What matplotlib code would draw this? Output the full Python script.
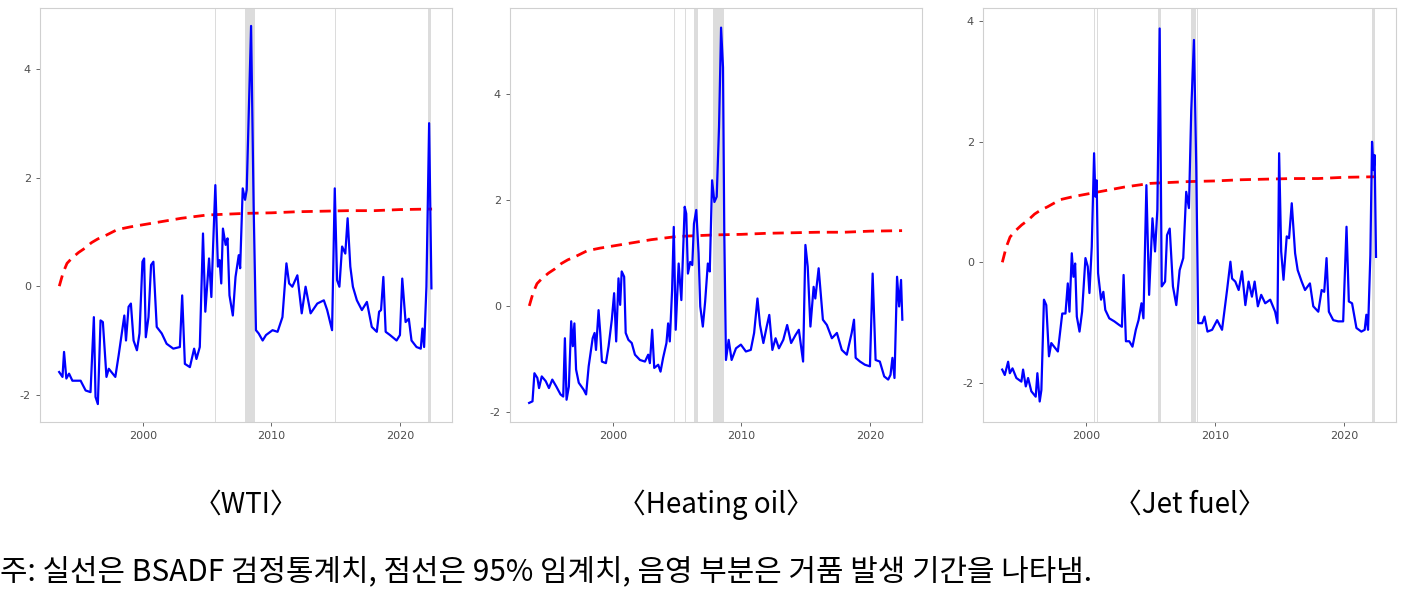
import numpy as np
import matplotlib.pyplot as plt

# ---- data ----
wti_t = [1993.49, 1993.75, 1993.87, 1994.05, 1994.26, 1994.52, 1995.16, 1995.55, 1995.93, 1996.19, 1996.32, 1996.50,
         1996.71, 1996.89, 1997.17, 1997.35, 1997.86, 1998.12, 1998.56, 1998.69, 1998.89, 1999.07, 1999.28, 1999.54,
         1999.74, 1999.97, 2000.10, 2000.23, 2000.44, 2000.64, 2000.82, 2001.08, 2001.47, 2001.85, 2002.37, 2002.88,
         2003.06, 2003.27, 2003.66, 2003.99, 2004.17, 2004.43, 2004.68, 2004.86, 2005.15, 2005.33, 2005.46, 2005.64,
         2005.84, 2005.97, 2006.10, 2006.23, 2006.44, 2006.59, 2006.74, 2007.00, 2007.21, 2007.46, 2007.57, 2007.77,
         2007.95, 2008.08, 2008.42, 2008.62, 2008.80, 2009.01, 2009.32, 2009.58, 2010.09, 2010.48, 2010.86, 2011.17,
         2011.38, 2011.63, 2012.02, 2012.36, 2012.66, 2013.05, 2013.57, 2014.08, 2014.34, 2014.72, 2014.93, 2015.11,
         2015.29, 2015.50, 2015.75, 2015.93, 2016.14, 2016.34, 2016.65, 2017.04, 2017.43, 2017.81, 2018.20, 2018.38,
         2018.53, 2018.71, 2018.89, 2019.23, 2019.74, 2020.00, 2020.18, 2020.44, 2020.69, 2020.90, 2021.29, 2021.62,
         2021.75, 2021.88, 2022.06, 2022.27, 2022.45]
wti_v = [-1.58, -1.67, -1.21, -1.70, -1.61, -1.74, -1.74, -1.92, -1.95, -0.57, -2.04, -2.17,
         -0.63, -0.66, -1.67, -1.52, -1.67, -1.27, -0.54, -1.00, -0.38, -0.32, -1.00, -1.18,
         -0.87, 0.45, 0.51, -0.94, -0.57, 0.39, 0.45, -0.75, -0.87, -1.06, -1.15, -1.12,
         -0.17, -1.43, -1.49, -1.15, -1.34, -1.12, 0.97, -0.47, 0.51, -0.20, 0.70, 1.86,
         0.36, 0.48, 0.05, 1.06, 0.76, 0.88, -0.17, -0.54, 0.17, 0.57, 0.33, 1.80,
         1.59, 1.77, 4.79, 1.46, -0.81, -0.87, -1.00, -0.90, -0.81, -0.84, -0.57, 0.42,
         0.05, -0.01, 0.20, -0.50, -0.01, -0.50, -0.32, -0.26, -0.44, -0.81, 1.80, 0.11,
         -0.01, 0.73, 0.60, 1.25, 0.36, -0.01, -0.26, -0.44, -0.29, -0.75, -0.84, -0.47,
         -0.44, 0.17, -0.84, -0.90, -1.00, -0.90, 0.14, -0.66, -0.60, -1.00, -1.12, -1.15,
         -0.78, -1.12, -0.01, 3.00, -0.04]

ho_t = [1993.49, 1993.75, 1993.90, 1994.13, 1994.26, 1994.47, 1994.78, 1995.03, 1995.29, 1995.60, 1995.93, 1996.14,
        1996.27, 1996.40, 1996.58, 1996.76, 1996.89, 1997.01, 1997.14, 1997.35, 1997.73, 1997.92, 1998.12, 1998.43,
        1998.58, 1998.69, 1998.89, 1999.02, 1999.15, 1999.46, 1999.67, 1999.92, 2000.10, 2000.26, 2000.44, 2000.57,
        2000.69, 2000.88, 2001.00, 2001.21, 2001.47, 2001.72, 2002.11, 2002.50, 2002.75, 2002.88, 2003.06, 2003.22,
        2003.53, 2003.71, 2003.91, 2004.17, 2004.30, 2004.43, 2004.61, 2004.74, 2004.89, 2005.12, 2005.33, 2005.59,
        2005.71, 2005.84, 2006.02, 2006.18, 2006.31, 2006.49, 2006.67, 2006.80, 2007.00, 2007.18, 2007.39, 2007.54,
        2007.72, 2007.90, 2008.08, 2008.26, 2008.42, 2008.57, 2008.67, 2008.80, 2009.01, 2009.24, 2009.58, 2009.96,
        2010.35, 2010.73, 2010.99, 2011.25, 2011.45, 2011.71, 2011.97, 2012.17, 2012.41, 2012.66, 2012.92, 2013.26,
        2013.56, 2013.87, 2014.21, 2014.47, 2014.80, 2014.98, 2015.16, 2015.37, 2015.62, 2015.75, 2016.01, 2016.34,
        2016.65, 2017.04, 2017.43, 2017.81, 2018.20, 2018.40, 2018.58, 2018.76, 2018.89, 2019.23, 2019.61, 2020.00,
        2020.21, 2020.44, 2020.77, 2021.11, 2021.42, 2021.60, 2021.75, 2021.91, 2022.11, 2022.27, 2022.42, 2022.52]
ho_v = [-1.83, -1.80, -1.27, -1.36, -1.55, -1.33, -1.42, -1.55, -1.39, -1.52, -1.67, -1.71,
        -0.61, -1.77, -1.52, -0.29, -0.76, -0.33, -1.20, -1.45, -1.58, -1.67, -1.14, -0.61,
        -0.51, -0.83, -0.08, -0.51, -1.05, -1.08, -0.76, -0.26, 0.24, -0.67, 0.52, 0.02,
        0.65, 0.55, -0.51, -0.64, -0.70, -0.92, -1.02, -1.05, -0.92, -1.08, -0.45, -1.17,
        -1.11, -1.24, -0.98, -0.70, -0.33, -0.67, 0.30, 1.49, -0.45, 0.80, 0.11, 1.87,
        1.74, 0.61, 0.83, 0.77, 1.55, 1.81, 0.99, -0.01, -0.39, 0.08, 0.80, 0.65,
        2.37, 1.96, 2.06, 3.37, 5.25, 4.50, 1.37, -1.02, -0.64, -1.02, -0.80, -0.73,
        -0.86, -0.83, -0.51, 0.14, -0.36, -0.70, -0.39, -0.17, -0.83, -0.61, -0.80, -0.64,
        -0.36, -0.70, -0.55, -0.45, -1.05, 1.15, 0.74, -0.39, 0.36, 0.14, 0.71, -0.26,
        -0.36, -0.61, -0.51, -0.83, -0.92, -0.70, -0.51, -0.26, -0.98, -1.05, -1.11, -1.14,
        0.61, -1.02, -1.05, -1.33, -1.39, -1.30, -0.98, -1.36, 0.55, -0.01, 0.49, -0.26]

jet_t = [1993.49, 1993.69, 1993.95, 1994.08, 1994.29, 1994.59, 1994.98, 1995.11, 1995.32, 1995.50, 1995.75, 1996.09,
         1996.22, 1996.40, 1996.53, 1996.73, 1996.91, 1997.12, 1997.30, 1997.81, 1998.15, 1998.40, 1998.58, 1998.71,
         1998.89, 1999.02, 1999.15, 1999.28, 1999.49, 1999.69, 1999.95, 2000.13, 2000.26, 2000.44, 2000.62, 2000.72,
         2000.82, 2000.93, 2001.16, 2001.34, 2001.49, 2001.80, 2002.19, 2002.57, 2002.78, 2002.91, 2003.09, 2003.35,
         2003.60, 2003.86, 2004.07, 2004.30, 2004.45, 2004.68, 2004.89, 2005.15, 2005.35, 2005.53, 2005.71, 2005.87,
         2006.13, 2006.28, 2006.49, 2006.74, 2007.00, 2007.26, 2007.54, 2007.77, 2007.98, 2008.16, 2008.37, 2008.55,
         2008.70, 2009.01, 2009.19, 2009.42, 2009.78, 2010.17, 2010.55, 2010.94, 2011.20, 2011.33, 2011.58, 2011.84,
         2012.10, 2012.36, 2012.61, 2012.87, 2013.08, 2013.33, 2013.59, 2013.90, 2014.29, 2014.67, 2014.85, 2014.98,
         2015.14, 2015.32, 2015.57, 2015.75, 2015.96, 2016.22, 2016.42, 2016.73, 2016.99, 2017.37, 2017.63, 2018.02,
         2018.28, 2018.48, 2018.66, 2018.84, 2019.18, 2019.56, 2019.95, 2020.21, 2020.39, 2020.64, 2020.98, 2021.36,
         2021.62, 2021.75, 2021.88, 2022.06, 2022.19, 2022.32, 2022.39, 2022.50]
jet_v = [-1.78, -1.87, -1.65, -1.84, -1.76, -1.92, -1.98, -1.78, -2.06, -1.92, -2.14, -2.23,
         -1.84, -2.31, -2.12, -0.62, -0.71, -1.56, -1.34, -1.48, -0.85, -0.85, -0.35, -0.82,
         0.15, -0.24, -0.02, -0.90, -1.15, -0.82, 0.07, -0.07, -0.51, 0.26, 1.81, 1.09,
         1.36, -0.18, -0.62, -0.49, -0.79, -0.93, -0.98, -1.04, -1.07, -0.21, -1.31, -1.31,
         -1.40, -1.12, -0.96, -0.68, -0.93, 1.28, -0.54, 0.73, 0.18, 0.87, 3.88, -0.40,
         -0.32, 0.45, 0.56, -0.40, -0.71, -0.13, 0.07, 1.17, 0.90, 2.52, 3.69, 1.59,
         -1.01, -1.01, -0.90, -1.15, -1.12, -0.96, -1.12, -0.46, 0.01, -0.27, -0.32, -0.46,
         -0.15, -0.71, -0.32, -0.57, -0.32, -0.73, -0.54, -0.68, -0.62, -0.82, -1.01, 1.81,
         0.18, -0.29, 0.43, 0.40, 0.98, 0.15, -0.13, -0.32, -0.46, -0.35, -0.73, -0.82,
         -0.46, -0.49, 0.07, -0.82, -0.96, -0.98, -0.98, 0.59, -0.65, -0.68, -1.09, -1.15,
         -1.12, -0.87, -1.12, 0.12, 2.00, 1.53, 1.78, 0.09]

# 95% critical values (nearly identical in all three panels)
cv_t = [1993.5, 1993.8, 1994.1, 1994.5, 1995.0, 1995.5, 1996.0, 1996.5, 1997.0, 1998.0, 1999.0, 2000.0,
        2001.0, 2002.0, 2003.0, 2004.0, 2005.0, 2006.0, 2008.0, 2010.0, 2012.0, 2014.0, 2016.0, 2018.0,
        2019.0, 2020.0, 2022.5]
cv_v = [0.00, 0.25, 0.42, 0.52, 0.62, 0.70, 0.80, 0.87, 0.92, 1.04, 1.09, 1.13,
        1.17, 1.21, 1.25, 1.28, 1.31, 1.32, 1.34, 1.35, 1.37, 1.38, 1.39, 1.39,
        1.40, 1.41, 1.42]

# bubble periods (start, end)
wti_bub = [(2005.60, 2005.72), (2007.95, 2008.70), (2014.94, 2015.00), (2022.20, 2022.45)]
ho_bub = [(2004.79, 2004.84), (2005.63, 2005.70), (2006.28, 2006.62), (2007.77, 2008.62)]
jet_bub = [(2000.62, 2000.68), (2000.86, 2000.90), (2005.59, 2005.79), (2008.16, 2008.55),
           (2008.60, 2008.70), (2014.96, 2015.00), (2022.21, 2022.39)]

titles = ['〈WTI〉', '〈Heating oil〉', '〈Jet fuel〉']
note = '주: 실선은 BSADF 검정통계치, 점선은 95% 임계치, 음영 부분은 거품 발생 기간을 나타냄.'

# ---- layout ----
W, H = 1405, 593
fig = plt.figure(figsize=(W / 100, H / 100), dpi=100)
panels = [
    (wti_t, wti_v, wti_bub, 40, 452, (-2.50, 5.12)),
    (ho_t, ho_v, ho_bub, 510, 922, (-2.19, 5.62)),
    (jet_t, jet_v, jet_bub, 983, 1396, (-2.65, 4.22)),
]
for i, (t, v, bub, x0, x1, ylim) in enumerate(panels):
    ax = fig.add_axes([x0 / W, 1 - 422 / H, (x1 - x0) / W, 414 / H])
    for s, e in bub:
        ax.axvspan(s, e, color='#dcdcdc', lw=0)
    ax.plot(cv_t, cv_v, color='red', ls=(0, (4, 2.5)), lw=2)
    ax.plot(t, v, color='blue', lw=1.6)
    ax.set_xlim(1992.0, 2024.05)
    ax.set_ylim(*ylim)
    ax.set_xticks([2000, 2010, 2020])
    ax.set_yticks([-2, 0, 2, 4])
    ax.set_yticklabels(['-2', '0', '2', '4'])
    ax.tick_params(labelsize=8, colors='#4d4d4d', length=3, width=0.6)
    for sp in ax.spines.values():
        sp.set_color('#d0d0d0')
        sp.set_linewidth(0.8)
    xc = (x0 + x1) / 2 / W
    fig.text(xc, 1 - 505 / H, titles[i], ha='center', va='center', fontsize=20,
             family=['Noto Sans CJK KR', 'DejaVu Sans'])

fig.text(0.0, 1 - 572 / H, note, ha='left', va='center', fontsize=21.5,
         family=['Noto Sans CJK KR', 'DejaVu Sans'])

fig.savefig('out.png', dpi=100)
